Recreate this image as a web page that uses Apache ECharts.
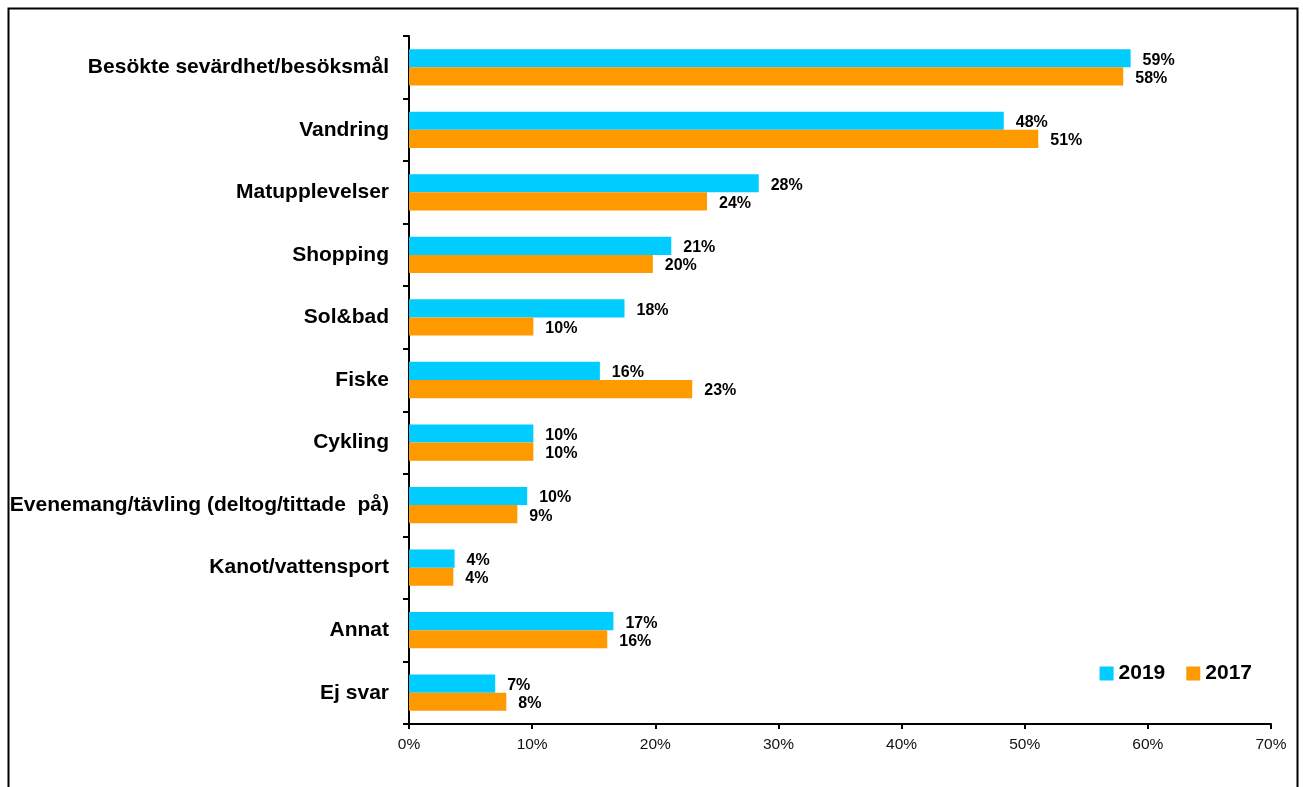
<!DOCTYPE html>
<html>
<head>
<meta charset="utf-8">
<script src="https://cdn.jsdelivr.net/npm/echarts@6/dist/echarts.min.js"></script>
<style>
  html, body { margin: 0; padding: 0; background: #fff; }
  #chart { width: 1303px; height: 787px; }
</style>
</head>
<body>
<div id="chart"></div>
<script>
var categories = [
    'Besökte sevärdhet/besöksmål',
    'Vandring',
    'Matupplevelser',
    'Shopping',
    'Sol&bad',
    'Fiske',
    'Cykling',
    'Evenemang/tävling (deltog/tittade  på)',
    'Kanot/vattensport',
    'Annat',
    'Ej svar'
];
var values2019 = [58.6, 48.3, 28.4, 21.3, 17.5, 15.5, 10.1, 9.6, 3.7, 16.6, 7.0];
var values2017 = [58.0, 51.1, 24.2, 19.8, 10.1, 23.0, 10.1, 8.8, 3.6, 16.1, 7.9];
var xTicks = [0, 10, 20, 30, 40, 50, 60, 70];

var chart = echarts.init(document.getElementById('chart'));

var labelStyle = {
    show: true,
    position: 'right',
    distance: 12,
    offset: [0, 2],
    fontFamily: 'Liberation Sans, Arial, sans-serif',
    fontWeight: 'bold',
    fontSize: 16,
    color: '#000',
    formatter: function (p) {
        return Math.round(p.value) + '%';
    }
};

var option = {
    animation: false,
    backgroundColor: '#fff',
    graphic: [{
        type: 'rect',
        shape: {x: 8.5, y: 8.5, width: 1289, height: 800},
        style: {fill: 'none', stroke: '#000', lineWidth: 2}
    }],
    legend: {
        right: 46,
        top: 658,
        itemWidth: 14,
        itemHeight: 14,
        itemGap: 21,
        icon: 'rect',
        textStyle: {
            fontFamily: 'Liberation Sans, Arial, sans-serif',
            fontWeight: 'bold',
            fontSize: 21,
            color: '#000'
        },
        data: ['2019', '2017']
    },
    grid: {
        left: 409,
        right: 32,
        top: 36,
        bottom: 63,
        containLabel: false
    },
    xAxis: {
        type: 'value',
        min: xTicks[0],
        max: xTicks[xTicks.length - 1],
        interval: 10,
        splitLine: {show: false},
        axisLine: {show: true, lineStyle: {color: '#000', width: 2}},
        axisTick: {show: true, length: 5, lineStyle: {color: '#000', width: 2}},
        axisLabel: {
            margin: 13,
            fontFamily: 'Liberation Sans, Arial, sans-serif',
            fontSize: 15.5,
            color: '#111',
            formatter: '{value}%'
        }
    },
    yAxis: {
        type: 'category',
        inverse: true,
        data: categories,
        axisLine: {show: true, lineStyle: {color: '#000', width: 2}},
        axisTick: {show: true, length: 6, lineStyle: {color: '#000', width: 2}},
        axisLabel: {
            margin: 20,
            padding: [3, 0, 0, 0],
            fontFamily: 'Liberation Sans, Arial, sans-serif',
            fontWeight: 'bold',
            fontSize: 21,
            color: '#000'
        }
    },
    series: [
        {
            name: '2019',
            type: 'bar',
            data: values2019,
            barGap: '0%',
            barCategoryGap: '42%',
            itemStyle: {color: '#00CCFF'},
            label: labelStyle
        },
        {
            name: '2017',
            type: 'bar',
            data: values2017,
            itemStyle: {color: '#FF9900'},
            label: labelStyle
        }
    ]
};

chart.setOption(option);
</script>
</body>
</html>
